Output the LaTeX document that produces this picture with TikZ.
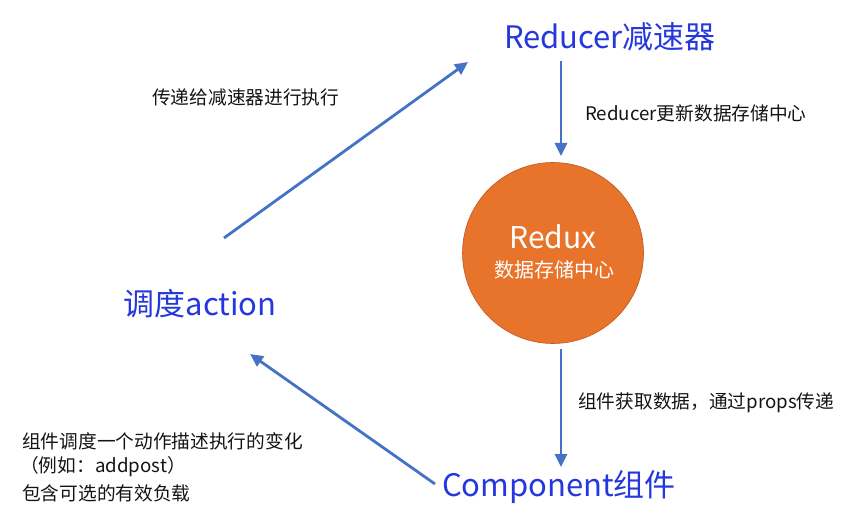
\documentclass[tikz,border=0pt]{standalone}
\usepackage{fontspec}
\setmainfont{Noto Sans CJK SC}
\usetikzlibrary{arrows.meta}
\definecolor{titleblue}{RGB}{36,56,220}
\definecolor{arrowblue}{RGB}{68,114,196}
\definecolor{reduxorange}{RGB}{232,115,43}
\definecolor{reduxborder}{RGB}{190,90,35}
\definecolor{labelgray}{RGB}{20,20,20}
\tikzset{
  title/.style={text=titleblue, inner sep=0pt, font=\fontsize{31}{35}\selectfont},
  lbl/.style={text=labelgray, inner sep=0pt, font=\fontsize{18.7}{22}\selectfont},
  flow/.style={draw=arrowblue, line width=2.8pt, -{Triangle[length=13pt,width=12pt]}},
  store/.style={circle, fill=reduxorange, draw=reduxborder, line width=0.6pt, minimum size=181pt, inner sep=0pt}
}
\begin{document}
\begin{tikzpicture}[x=1pt,y=-1pt]
\useasboundingbox (0,0) rectangle (864,521);
% main nodes
\node[title] (reducer) at (610,37) {Reducer减速器};
\node[title] (action) at (200,304) {调度action};
\node[title] (component) at (559,487) {Component组件};
\node[store] (redux) at (553,253) {};
\node[text=white, inner sep=0pt, font=\fontsize{30}{34}\selectfont] (reduxname) at (553,237) {Redux};
\node[text=white, inner sep=0pt, font=\fontsize{20}{24}\selectfont] (reduxdesc) at (554,270) {数据存储中心};
% labels
\node[lbl, anchor=west] (l1) at (585,113) {Reducer更新数据存储中心};
\node[lbl, anchor=west] (l2) at (578,403) {组件获取数据，通过props传递};
\node[lbl, anchor=west] (l3) at (152,97) {传递给减速器进行执行};
\node[lbl, anchor=west] (l4a) at (22,441) {组件调度一个动作描述执行的变化};
\node[lbl, anchor=west] (l4b) at (20,467) {（例如：addpost）};
\node[lbl, anchor=west] (l4c) at (22,493) {包含可选的有效负载};
% connector ends
\coordinate (r1) at (561,61);
\coordinate (r2) at (561,156);
\coordinate (c1) at (561,349);
\coordinate (c2) at (561,467);
\coordinate (p1) at (435,484);
\coordinate (p2) at (250,354);
\coordinate (a1) at (224,238);
\coordinate (a2) at (468,62);
% connectors
\draw[flow] (r1) -- (r2);
\draw[flow] (c1) -- (c2);
\draw[flow] (p1) -- (p2);
\draw[flow] (a1) -- (a2);
\end{tikzpicture}
\end{document}
